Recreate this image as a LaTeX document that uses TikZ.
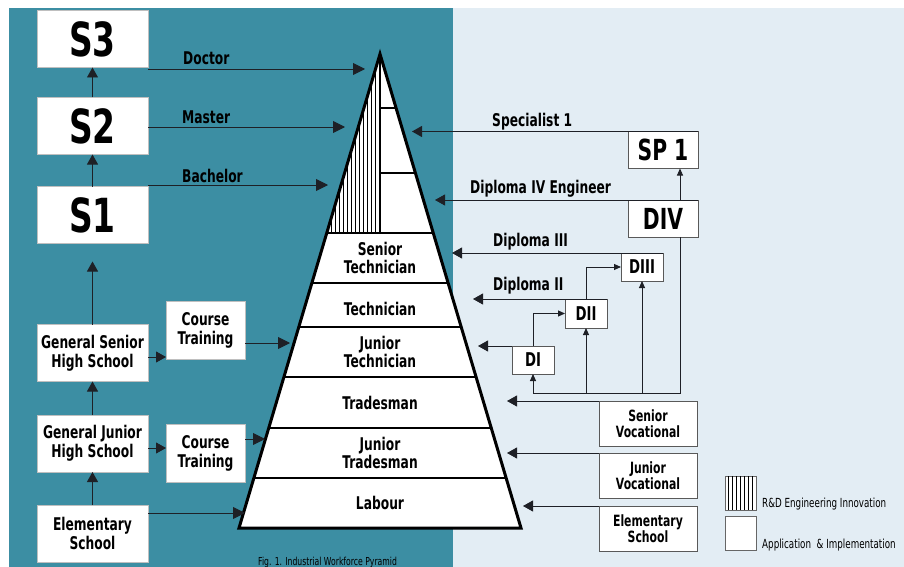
\documentclass[tikz,border=0pt]{standalone}
\usepackage{fontspec}
\setmainfont{DejaVu Sans}[FakeStretch=0.7]
\usetikzlibrary{arrows.meta}
\definecolor{panelteal}{RGB}{60,142,163}
\definecolor{panellight}{RGB}{227,237,244}
\definecolor{wire}{RGB}{30,32,38}
\tikzstyle{box}=[draw=black!65, fill=white, inner sep=0, outer sep=0, align=center, line width=0.8pt]
\tikzstyle{lbox}=[box, draw=black!25, minimum width=111pt, minimum height=57pt, font=\bfseries\fontsize{17.5}{19}\selectfont]
\tikzstyle{sbox}=[lbox, font=\bfseries\fontsize{47}{47}\selectfont]
\tikzstyle{cbox}=[lbox, minimum width=79pt, minimum height=58pt]
\tikzstyle{rbox}=[box, minimum width=98pt, minimum height=45pt, font=\bfseries\fontsize{15.5}{16.5}\selectfont]
\tikzstyle{dbox}=[box, minimum width=42pt, minimum height=28pt, font=\bfseries\fontsize{19}{19}\selectfont]
\tikzstyle{spbox}=[box, minimum width=70pt, minimum height=37pt, font=\bfseries\fontsize{29}{29}\selectfont]
\tikzstyle{tag}=[inner sep=0, anchor=base west, font=\bfseries\fontsize{17.5}{17.5}\selectfont]
\tikzstyle{level}=[inner sep=0, align=center, font=\bfseries\fontsize{17.5}{17.5}\selectfont]
\tikzstyle{key}=[draw=black!60, fill=white, inner sep=0, minimum width=31pt, minimum height=34pt]
\tikzstyle{keytext}=[inner sep=0, anchor=west, font=\fontsize{12.5}{13}\selectfont]
\tikzstyle{hatch}=[draw=black, line width=1pt]
\tikzstyle{conn}=[draw=wire, line width=0.9pt]
\tikzstyle{bigarrow}=[conn, -{Triangle[length=12pt,width=12pt]}]
\tikzstyle{midarrow}=[conn, -{Triangle[length=10pt,width=11pt]}]
\tikzstyle{smallarrow}=[conn, -{Triangle[length=7pt,width=6pt]}]
\begin{document}
\begin{tikzpicture}[x=1pt, y=-1pt]
    \useasboundingbox (0,0) rectangle (904,567);
    % background panels
    \fill[white] (0,0) rectangle (904,567);
    \fill[panelteal] (9,8) rectangle (453,567);
    \fill[panellight] (453,8) rectangle (904,567);
    % general education ladder
    \node[sbox] (s3) at (92.5,39) {S3};
    \node[sbox] (s2) at (92.5,126) {S2};
    \node[sbox] (s1) at (92.5,215) {S1};
    \node[lbox] (gshs) at (92.5,353) {General Senior\\High School};
    \node[lbox] (gjhs) at (92.5,443.5) {General Junior\\High School};
    \node[lbox] (elem) at (92.5,533.5) {Elementary\\School};
    \node[cbox] (ct1) at (205.5,330) {Course\\Training};
    \node[cbox] (ct2) at (205.5,453.5) {Course\\Training};
    \draw[midarrow] (s2) -- (s3);
    \draw[midarrow] (s1) -- (s2);
    \draw[midarrow, shorten >=18pt] (gshs) -- (s1);
    \draw[midarrow] (gjhs) -- (gshs);
    \draw[midarrow] (elem) -- (gjhs);
    \draw[midarrow] (gshs.east |- 0,357) -- (ct1.west |- 0,357);
    \draw[midarrow] (gjhs.east |- 0,448) -- (ct2.west |- 0,448);
    % pyramid
    \coordinate (apex) at (380,54);
    \coordinate (bl) at (239,528);
    \coordinate (br) at (521,528);
    \fill[white] (apex) -- (bl) -- (br) -- cycle;
    \begin{scope}
        \clip (apex) -- ({380-179/474*141},233) -- (380,233) -- cycle;
        \foreach \x in {327,331,...,379}
            \draw[hatch] (\x,50) -- (\x,235);
    \end{scope}
    \draw[line width=1.4pt] (apex) -- (380,233);
    \foreach \y in {108,173}
        \draw[line width=1.4pt] (380,\y) -- ({380+(\y-54)/474*141},\y);
    \foreach \y in {233,283,327,377,428,478}
        \draw[line width=1.6pt] ({380-(\y-54)/474*141},\y) -- ({380+(\y-54)/474*141},\y);
    \draw[line width=3pt] (apex) -- (bl) -- (br) -- cycle;
    \node[level] (sentech) at (380,258) {Senior\\Technician};
    \node[level] (tech) at (380,309) {Technician};
    \node[level] (juntech) at (380,352) {Junior\\Technician};
    \node[level] (trades) at (380,403) {Tradesman};
    \node[level] (juntrades) at (380,453) {Junior\\Tradesman};
    \node[level] (labour) at (380,503) {Labour};
    % degrees into the pyramid
    \coordinate (doc) at (365,69);
    \coordinate (mas) at (345,127);
    \coordinate (bac) at (328,185);
    \draw[bigarrow] (s3.east |- doc) -- (doc);
    \draw[bigarrow] (s2.east |- mas) -- (mas);
    \draw[bigarrow] (s1.east |- bac) -- (bac);
    \node[tag] (doctag) at (183,65) {Doctor};
    \node[tag] (mastag) at (182,124) {Master};
    \node[tag] (bactag) at (182,182) {Bachelor};
    \coordinate (ct1tip) at (290,343);
    \coordinate (ct2tip) at (265,439);
    \coordinate (elemtip) at (245,513);
    \draw[bigarrow] (ct1.east |- ct1tip) -- (ct1tip);
    \draw[bigarrow] (ct2.east |- ct2tip) -- (ct2tip);
    \draw[bigarrow] (elem.east |- elemtip) -- (elemtip);
    % vocational ladder
    \node[spbox] (sp1) at (663,150) {SP 1};
    \node[spbox] (div) at (663,218.5) {DIV};
    \node[dbox] (diii) at (642,267) {DIII};
    \node[dbox, minimum height=29pt] (dii) at (586,313.5) {DII};
    \node[dbox] (di) at (533,360) {DI};
    \node[rbox] (sv) at (648,423.5) {Senior\\Vocational};
    \node[rbox] (jv) at (648,475.5) {Junior\\Vocational};
    \node[rbox] (elemr) at (648,528.5) {Elementary\\School};
    \coordinate (spec) at (412,131.5);
    \coordinate (dfour) at (435,200);
    \coordinate (dthree) at (452,253);
    \coordinate (dtwo) at (473,299);
    \coordinate (done) at (478,346);
    \draw[midarrow] (sp1.north east) -- (spec);
    \draw[midarrow] (div.north east) -- (dfour);
    \draw[midarrow] (diii.north east) -- (dthree);
    \draw[midarrow] (dii.north east) -- (dtwo);
    \draw[midarrow] (di.north west) -- (done);
    \node[tag] (spectag) at (492,126) {Specialist 1};
    \node[tag] (dfourtag) at (470,193) {Diploma IV Engineer};
    \node[tag] (dthreetag) at (493,246) {Diploma III};
    \node[tag] (dtwotag) at (493,290) {Diploma II};
    \draw[smallarrow] (di.north) |- (dii.west);
    \draw[smallarrow] (dii.north) |- (diii.west);
    \coordinate (feed) at (680,393);
    \draw[smallarrow] (div.north -| feed) -- (sp1.south -| feed);
    \draw[smallarrow] (div.south -| feed) -- (feed) -| (di.south);
    \draw[smallarrow] (dii.south |- feed) -- (dii.south);
    \draw[smallarrow] (diii.south |- feed) -- (diii.south);
    \coordinate (svtip) at (507,401);
    \coordinate (jvtip) at (507,453);
    \coordinate (elemrtip) at (523,506);
    \draw[midarrow] (sv.north west) -- (svtip);
    \draw[midarrow] (jv.north west) -- (jvtip);
    \draw[midarrow] (elemr.north west) -- (elemrtip);
    % legend
    \node[key] (keyrd) at (740.5,493) {};
    \foreach \x in {728,732,...,754}
        \draw[hatch] (\x,476) -- (\x,510);
    \node[key] (keyapp) at (740.5,533.5) {};
    \node[keytext] (keyrdtext) at (762,504) {R\&D Engineering Innovation};
    \node[keytext] (keyapptext) at (762,545) {Application~ \& Implementation};
    % caption
    \node[inner sep=0, anchor=base west, font=\fontsize{11}{11}\selectfont] (caption) at (258,565) {Fig. 1. Industrial Workforce Pyramid};
\end{tikzpicture}
\end{document}
